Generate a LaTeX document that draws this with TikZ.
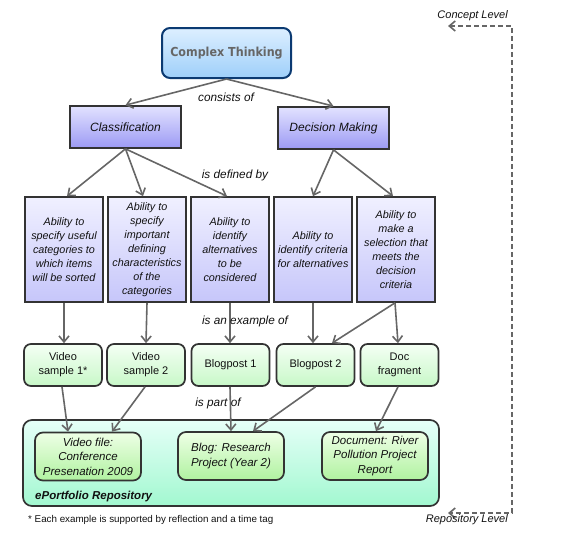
\documentclass[tikz,border=0pt]{standalone}
\usepackage{fontspec}
\setmainfont{Liberation Sans}
\newfontfamily\ctfont[FakeStretch=0.9]{DejaVu Sans}
\usetikzlibrary{arrows.meta}
\definecolor{arrowgray}{HTML}{666666}
\definecolor{edgedark}{HTML}{333333}
\definecolor{ctborder}{HTML}{0B3A72}
\definecolor{cttop}{HTML}{DDEFFF}
\definecolor{ctbot}{HTML}{9ECFFA}
\definecolor{cltop}{HTML}{E2E2FF}
\definecolor{clbot}{HTML}{9C9AF4}
\definecolor{abtop}{HTML}{F0F0FF}
\definecolor{abbot}{HTML}{C6C6FA}
\definecolor{extop}{HTML}{F4FFF4}
\definecolor{exbot}{HTML}{C8F8C8}
\definecolor{rptop}{HTML}{E6FFF8}
\definecolor{rpbot}{HTML}{A2F8D0}
\definecolor{intop}{HTML}{EEFFE6}
\definecolor{inbot}{HTML}{B0F2A0}
\definecolor{txtgray}{HTML}{666666}
\definecolor{txtdark}{HTML}{111111}
\tikzset{
  conn/.style={draw=arrowgray, line width=1.6pt, -{Straight Barb[length=6pt,width=10pt,line width=1.6pt]}},
  dashconn/.style={draw=arrowgray, line width=1.6pt, dash pattern=on 5pt off 3pt,
     {Straight Barb[length=6pt,width=10pt,line width=1.6pt]}-{Straight Barb[length=6pt,width=10pt,line width=1.6pt]}},
  ctbox/.style={draw=ctborder, line width=2pt, rounded corners=8pt, top color=cttop, bottom color=ctbot,
     minimum width=129pt, minimum height=50pt, inner sep=0pt,
     font=\ctfont\fontsize{12.4}{14}\selectfont\bfseries, text=txtgray},
  clbox/.style={draw=edgedark, line width=1.7pt, top color=cltop, bottom color=clbot,
     minimum width=111pt, minimum height=42pt, inner sep=0pt,
     font=\fontsize{12}{14}\selectfont\itshape, text=txtdark},
  abbox/.style={draw=edgedark, line width=1.7pt, top color=abtop, bottom color=abbot,
     minimum width=78pt, minimum height=105pt, inner sep=0pt, align=center,
     font=\fontsize{10.8}{14}\selectfont\itshape, text=txtdark},
  exbox/.style={draw=edgedark, line width=1.7pt, rounded corners=7pt, top color=extop, bottom color=exbot,
     minimum width=78pt, minimum height=42pt, inner sep=0pt, align=center,
     font=\fontsize{11}{14}\selectfont, text=txtdark},
  rpbox/.style={draw=edgedark, line width=1.7pt, rounded corners=9pt, top color=rptop, bottom color=rpbot,
     minimum width=416pt, minimum height=86pt, inner sep=0pt},
  inbox/.style={draw=edgedark, line width=1.7pt, rounded corners=8pt, top color=intop, bottom color=inbot,
     minimum width=106pt, minimum height=48pt, inner sep=0pt, align=center,
     font=\fontsize{11.5}{14.5}\selectfont\itshape, text=txtdark},
  lbl/.style={font=\fontsize{11.8}{14}\selectfont\itshape, text=txtdark, inner sep=0pt},
  lvl/.style={font=\fontsize{11}{13}\selectfont\itshape, text=txtdark, inner sep=0pt, anchor=east},
}
\begin{document}
\begin{tikzpicture}[x=1pt,y=-1pt]
\useasboundingbox (0,0) rectangle (574,541);
% concept nodes
\node[ctbox] (ct) at (226.5,53) {Complex Thinking};
\node[clbox] (cls) at (125.5,127) {Classification};
\node[clbox] (dm) at (333.5,128) {Decision Making};
\node[abbox] (a1) at (64,249.5) {Ability to\\specify useful\\categories to\\which items\\will be sorted};
\node[abbox] (a2) at (147,249.5) {Ability to\\specify\\important\\defining\\characteristics\\of the\\categories};
\node[abbox] (a3) at (230,249.5) {Ability to\\identify\\alternatives\\to be\\considered};
\node[abbox] (a4) at (313,249.5) {Ability to\\identify criteria\\for alternatives};
\node[abbox] (a5) at (396,249.5) {Ability to\\make a\\selection that\\meets the\\decision\\criteria};
\node[exbox] (e1) at (63,365) {Video\\sample 1*};
\node[exbox] (e2) at (146,365) {Video\\sample 2};
\node[exbox] (e3) at (230.5,365) {Blogpost 1};
\node[exbox] (e4) at (315.5,365) {Blogpost 2};
\node[exbox] (e5) at (399.5,365) {Doc\\fragment};
% repository
\node[rpbox] (repo) at (231,463) {};
\node[font=\fontsize{11.5}{14}\selectfont\bfseries\itshape, text=txtdark, anchor=west, inner sep=0pt] (repolbl) at (35,497) {ePortfolio Repository};
\node[inbox] (r1) at (88,456.5) {Video file:\\Conference\\Presenation 2009};
\node[inbox] (r2) at (231,456) {Blog: Research\\Project (Year 2)};
\node[inbox] (r3) at (375,456) {Document: River\\Pollution Project\\Report};
% connectors
\draw[conn] (ct.south) -- (cls.north);
\draw[conn] (ct.south) -- (dm.north);
\draw[conn] (cls.south) -- ([xshift=3pt]a1.north);
\draw[conn] (cls.south) -- ([xshift=-4pt]a2.north);
\draw[conn] (cls.south) -- ([xshift=-3pt]a3.north);
\draw[conn] (dm.south) -- (a4.north);
\draw[conn] (dm.south) -- ([xshift=-3pt]a5.north);
\draw[conn] (a1.south) -- ([xshift=1pt]e1.north);
\draw[conn] (a2.south) -- (e2.north);
\draw[conn] (a3.south) -- ([xshift=-0.5pt]e3.north);
\draw[conn] (a4.south) -- ([xshift=-2.5pt]e4.north);
\draw[conn] ([xshift=-1pt]a5.south) -- ([xshift=16.5pt]e4.north);
\draw[conn] ([xshift=-1pt]a5.south) -- ([xshift=-1.5pt]e5.north);
\draw[conn] ([xshift=-1pt]e1.south) -- ([xshift=-20pt]r1.north);
\draw[conn] ([xshift=-1pt]e2.south) -- ([xshift=24pt]r1.north);
\draw[conn] ([xshift=-0.5pt]e3.south) -- (r2.north);
\draw[conn] (e4.south) -- ([xshift=22pt]r2.north);
\draw[conn] ([xshift=-1.5pt]e5.south) -- ([xshift=1pt]r3.north);
% link labels
\node[lbl] (l1) at (226,97) {consists of};
\node[lbl] (l2) at (235,175) {is defined by};
\node[lbl] (l3) at (245,321) {is an example of};
\node[lbl] (l4) at (218,403) {is part of};
% levels
\coordinate (lt) at (448,26);
\coordinate (ltc) at (512,26);
\coordinate (lbc) at (512,513);
\coordinate (lb) at (448,513);
\draw[dashconn] (lt) -- (ltc) -- (lbc) -- (lb);
\node[lvl] (clv) at (508,16) {Concept Level};
\node[lvl] (rlv) at (508,520) {Repository Level};
\node[font=\fontsize{9.8}{12}\selectfont, text=txtdark, anchor=west, inner sep=0pt] (foot) at (28,520) {* Each example is supported by reflection and a time tag};
\end{tikzpicture}
\end{document}
